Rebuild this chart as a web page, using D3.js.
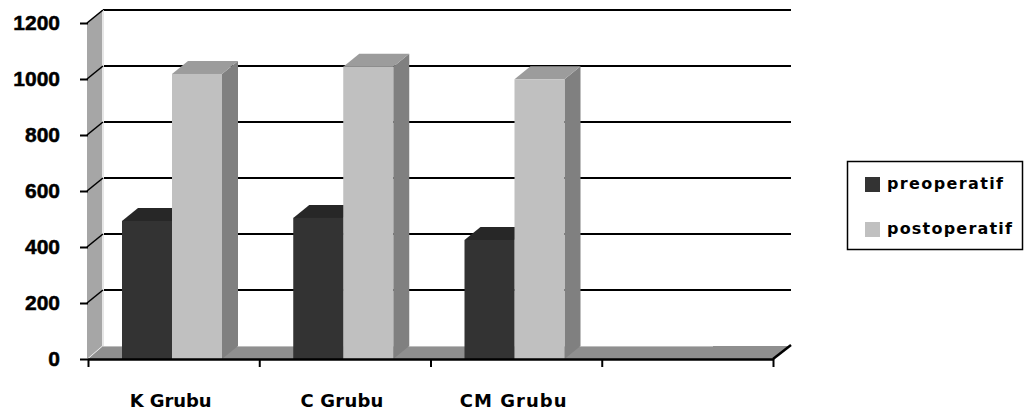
<!DOCTYPE html>
<html>
<head>
<meta charset="utf-8">
<script src="https://cdn.jsdelivr.net/npm/d3@7"></script>
<style>
  html, body { margin: 0; padding: 0; background: #fff; }
  svg { display: block; }
</style>
</head>
<body>
<svg id="chart" width="1027" height="416"></svg>
<script>
// Chart data
const categories = ["K Grubu", "C Grubu", "CM Grubu", ""];
const seriesNames = ["preoperatif", "postoperatif"];
const preoperatif = [493, 504, 425, null];
const postoperatif = [1018, 1044, 999, null];
const yTicks = [0, 200, 400, 600, 800, 1000, 1200];

const seriesColors = {
  preoperatif:  { front: "#333333", top: "#272727", side: "#1e1e1e" },
  postoperatif: { front: "#c0c0c0", top: "#9c9c9c", side: "#808080" }
};

const svg = d3.select("#chart");

// Plot frame (front plane) and depth offset of the 3D box
const plotLeft = 88, plotRight = 773, plotBottom = 359, plotTop = 23;
const wallDX = 15, wallDY = -13;
const barDX = 16, barDY = -13;

const x = d3.scaleBand().domain(d3.range(categories.length)).range([plotLeft, plotRight]);
const xs = d3.scaleBand().domain(seriesNames).range([34, 134]);
const y = d3.scaleLinear().domain([0, 1200]).range([plotBottom, plotTop]);

const fmtPts = pts => pts.map(p => p.join(",")).join(" ");

// Back wall gridlines
const g = svg.append("g");
g.selectAll(".grid").data(yTicks.filter(v => v > 0)).join("line")
  .attr("x1", plotLeft + wallDX).attr("x2", plotRight + wallDX + 3)
  .attr("y1", d => y(d) + wallDY).attr("y2", d => y(d) + wallDY)
  .attr("stroke", "#000").attr("stroke-width", 2);

// Left side wall
g.append("polygon")
  .attr("points", fmtPts([[plotLeft - 1, y(0)], [plotLeft - 1, y(1200)], [plotLeft + wallDX - 1, y(1200) + wallDY], [plotLeft + wallDX - 1, y(0) + wallDY]]))
  .attr("fill", "#a6a6a6");
g.append("line")
  .attr("x1", plotLeft + wallDX).attr("x2", plotLeft + wallDX)
  .attr("y1", y(1200) + wallDY).attr("y2", y(0) + wallDY)
  .attr("stroke", "#e6e6e6").attr("stroke-width", 2);
g.selectAll(".wallgrid").data(yTicks.filter(v => v > 0)).join("line")
  .attr("x1", plotLeft - 1).attr("x2", plotLeft + wallDX)
  .attr("y1", d => y(d)).attr("y2", d => y(d) + wallDY)
  .attr("stroke", "#000").attr("stroke-width", 1.6);

// Floor
g.append("polygon")
  .attr("points", fmtPts([[plotLeft, y(0)], [plotRight, y(0)], [plotRight + wallDX + 2, y(0) + wallDY], [plotLeft + wallDX, y(0) + wallDY]]))
  .attr("fill", "#8f8f8f");
g.append("line")
  .attr("x1", plotLeft + wallDX).attr("x2", plotRight - 60)
  .attr("y1", y(0) + wallDY + 0.5).attr("y2", y(0) + wallDY + 0.5)
  .attr("stroke", "#bdbdbd").attr("stroke-width", 1);

// 3D columns
const bars = [];
categories.forEach((c, i) => {
  [preoperatif, postoperatif].forEach((arr, k) => {
    const v = arr[i];
    if (v == null) return;
    bars.push({ i, s: seriesNames[k], v });
  });
});

const barG = svg.append("g");
bars.forEach(d => {
  const x0 = x(d.i) + xs(d.s), x1 = x0 + xs.bandwidth();
  const yt = y(d.v), yb = y(0);
  const col = seriesColors[d.s];
  const bg = barG.append("g");
  bg.append("polygon")
    .attr("points", fmtPts([[x1, yt], [x1 + barDX, yt + barDY], [x1 + barDX, yb + barDY], [x1, yb]]))
    .attr("fill", col.side);
  bg.append("polygon")
    .attr("points", fmtPts([[x0, yt], [x1, yt], [x1 + barDX, yt + barDY], [x0 + barDX, yt + barDY]]))
    .attr("fill", col.top);
  bg.append("rect")
    .attr("x", x0).attr("y", yt).attr("width", x1 - x0).attr("height", yb - yt)
    .attr("fill", col.front);
});

// Front edge of the floor and category axis
svg.append("line")
  .attr("x1", plotLeft).attr("x2", plotRight).attr("y1", y(0) + 0.5).attr("y2", y(0) + 0.5)
  .attr("stroke", "#000").attr("stroke-width", 2.5);
svg.append("line")
  .attr("x1", plotRight).attr("x2", plotRight + wallDX + 3).attr("y1", y(0)).attr("y2", y(0) + wallDY - 1)
  .attr("stroke", "#000").attr("stroke-width", 2.5);

const xb = d3.scaleLinear().domain([0, categories.length]).range([plotLeft, plotRight]);
svg.append("g")
  .attr("transform", `translate(0,${y(0)})`)
  .call(d3.axisBottom(xb).tickValues(d3.range(categories.length + 1)).tickSize(8).tickFormat(""))
  .call(a => a.select(".domain").remove())
  .call(a => a.selectAll(".tick line").attr("stroke", "#000").attr("stroke-width", 2));

// Category labels
const catW = [82, 83, 107, 0];
svg.append("g").selectAll("text").data(categories.map((c, i) => ({ c, i })).filter(d => d.c))
  .join("text")
  .attr("x", d => x(d.i) + x.bandwidth() / 2 - 3)
  .attr("y", 407)
  .attr("text-anchor", "middle")
  .attr("textLength", d => catW[d.i])
  .attr("lengthAdjust", "spacing")
  .attr("font-family", "'DejaVu Sans', Verdana, sans-serif")
  .attr("font-weight", "bold")
  .attr("font-size", 18)
  .attr("fill", "#000")
  .text(d => d.c);

// Value axis
svg.append("g")
  .attr("transform", `translate(${plotLeft},0)`)
  .call(d3.axisLeft(y).tickValues(yTicks).tickSize(8).tickPadding(20).tickFormat(d3.format("d")))
  .call(a => a.select(".domain").remove())
  .call(a => a.selectAll(".tick line").attr("stroke", "#000").attr("stroke-width", 2))
  .call(a => a.selectAll(".tick text")
    .attr("font-family", "'Liberation Sans', Arial, sans-serif")
    .attr("font-weight", "bold")
    .attr("font-size", 21)
    .attr("stroke", "#000").attr("stroke-width", 0.5)
    .attr("fill", "#000"));

// Legend
const lg = svg.append("g");
lg.append("rect").attr("x", 847.5).attr("y", 161.5).attr("width", 175).attr("height", 88)
  .attr("fill", "#fff").attr("stroke", "#000").attr("stroke-width", 1.5);
const legW = [116, 125];
seriesNames.forEach((s, k) => {
  const yy = 177 + k * 45;
  lg.append("rect").attr("x", 865).attr("y", yy).attr("width", 15).attr("height", 15)
    .attr("fill", seriesColors[s].front);
  lg.append("text").attr("x", 887).attr("y", yy + 12)
    .attr("textLength", legW[k]).attr("lengthAdjust", "spacing")
    .attr("font-family", "'DejaVu Sans', Verdana, sans-serif")
    .attr("font-weight", "bold").attr("font-size", 16).attr("fill", "#000")
    .text(s);
});
</script>
</body>
</html>
